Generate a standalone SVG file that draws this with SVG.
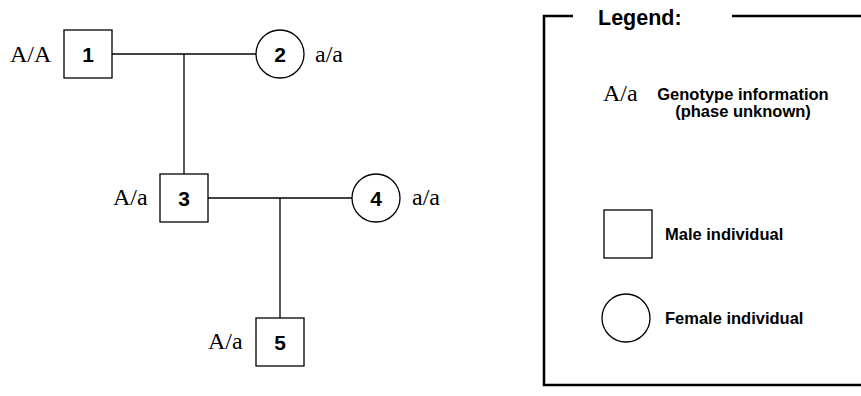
<svg xmlns="http://www.w3.org/2000/svg" width="861" height="396" viewBox="0 0 861 396">
  <style>
    .shape { fill: #fff; stroke: #000; stroke-width: 1.3; }
    .link { fill: none; stroke: #000; stroke-width: 1.3; }
    .frame { fill: none; stroke: #000; stroke-width: 2.5; }
    .num { font-family: "Liberation Sans", Arial, sans-serif; font-weight: bold; font-size: 21px; text-anchor: middle; }
    .geno { font-family: "Liberation Serif", "Times New Roman", serif; font-size: 24px; }
    .lbl { font-family: "Liberation Sans", Arial, sans-serif; font-weight: bold; font-size: 16.5px; }
  </style>
  <rect width="861" height="396" fill="#fff"/>

  <!-- mating and descent lines -->
  <g id="connectors">
    <line class="link" x1="112" y1="54" x2="256" y2="54"/>
    <line class="link" x1="184" y1="54" x2="184" y2="174"/>
    <line class="link" x1="208" y1="198" x2="352" y2="198"/>
    <line class="link" x1="280" y1="198" x2="280" y2="318"/>
  </g>

  <g id="ind1">
    <rect class="shape" x="64" y="30" width="48" height="48"/>
    <text class="num" x="88" y="61.5">1</text>
    <text class="geno" x="10" y="62">A/A</text>
  </g>
  <g id="ind2">
    <circle class="shape" cx="280" cy="54" r="24"/>
    <text class="num" x="280" y="61.5">2</text>
    <text class="geno" x="315" y="62">a/a</text>
  </g>
  <g id="ind3">
    <rect class="shape" x="160" y="174" width="48" height="48"/>
    <text class="num" x="184" y="205.5">3</text>
    <text class="geno" x="113" y="205">A/a</text>
  </g>
  <g id="ind4">
    <circle class="shape" cx="376" cy="198" r="24"/>
    <text class="num" x="376" y="205.5">4</text>
    <text class="geno" x="412" y="205">a/a</text>
  </g>
  <g id="ind5">
    <rect class="shape" x="256" y="318" width="48" height="48"/>
    <text class="num" x="280" y="349.5">5</text>
    <text class="geno" x="208" y="349">A/a</text>
  </g>

  <!-- legend panel -->
  <g id="legend">
    <path class="frame" d="M573,16 H544 V385 H863 M732,16 H863"/>
    <text x="598" y="25" font-family="Liberation Sans, Arial, sans-serif" font-weight="bold" font-size="21.5">Legend:</text>
    <text class="geno" x="603" y="101" font-size="25">A/a</text>
    <text class="lbl" x="743" y="100" text-anchor="middle" font-size="17">Genotype information</text>
    <text class="lbl" x="743" y="117" text-anchor="middle" font-size="17">(phase unknown)</text>
    <rect class="shape" x="604" y="210" width="48" height="48"/>
    <text class="lbl" x="665" y="240">Male individual</text>
    <circle class="shape" cx="626" cy="318" r="24"/>
    <text class="lbl" x="665" y="324">Female individual</text>
  </g>
</svg>
